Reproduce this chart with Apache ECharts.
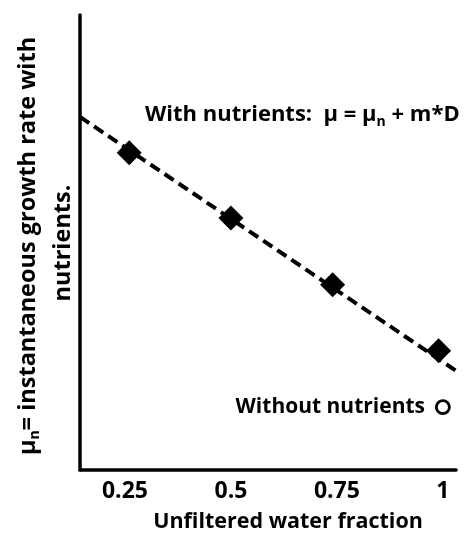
<!DOCTYPE html>
<html>
<head>
<meta charset="utf-8">
<script src="https://cdn.jsdelivr.net/npm/echarts@6/dist/echarts.min.js"></script>
<style>
  html, body { margin: 0; padding: 0; background: #fff; }
  #chart { width: 469px; height: 537px; }
</style>
</head>
<body>
<div id="chart"></div>
<script>
// 刻度标签
const xTicks = [0.25, 0.5, 0.75, 1];
// 加营养盐的点（菱形）
const withX = [0.26, 0.5, 0.74, 0.99];
const withY = [6.97, 5.54, 4.07, 2.62];
// 虚线拟合线两端
const fitX = [0.144, 1.031];
const fitY = [7.76, 2.18];
// 不加营养盐（空心圆）
const withoutX = [1.0];
const withoutY = [1.38];

const FONT = '"Open Sans", "DejaVu Sans", sans-serif';

let myChart = echarts.init(document.getElementById('chart'));
let option = {
  animation: false,
  grid: { left: 80, top: 15, right: 13, bottom: 67 },
  xAxis: {
    type: 'value',
    min: 0.144,
    max: 1.031,
    splitLine: { show: false },
    axisTick: { show: false },
    axisLine: { lineStyle: { color: '#000', width: 3.5 } },
    axisLabel: {
      customValues: xTicks,
      margin: 10,
      color: '#000',
      fontFamily: FONT,
      fontWeight: 'bold',
      fontSize: 23,
      formatter: v => String(v)
    }
  },
  yAxis: {
    type: 'value',
    min: 0,
    max: 10,
    splitLine: { show: false },
    axisTick: { show: false },
    axisLabel: { show: false },
    axisLine: { show: true, lineStyle: { color: '#000', width: 3.5 } }
  },
  series: [
    {
      name: 'fit',
      type: 'line',
      symbol: 'none',
      silent: true,
      lineStyle: { color: '#000', width: 4, type: [11, 6] },
      data: fitX.map((x, i) => [x, fitY[i]])
    },
    {
      name: 'with',
      type: 'scatter',
      symbol: 'diamond',
      symbolSize: 25,
      itemStyle: { color: '#000', opacity: 1 },
      data: withX.map((x, i) => [x, withY[i]])
    },
    {
      name: 'without',
      type: 'scatter',
      symbol: 'circle',
      symbolSize: 13,
      itemStyle: { color: '#fff', borderColor: '#000', borderWidth: 2.8, opacity: 1 },
      data: withoutX.map((x, i) => [x, withoutY[i]])
    }
  ],
  graphic: [
    {
      type: 'text',
      x: 145, y: 115,
      style: {
        text: '{b|With nutrients:  μ = μ}{s|n}{b| + m*D}',
        verticalAlign: 'middle',
        rich: {
          b: { fontFamily: FONT, fontWeight: 'bold', fontSize: 22, fill: '#000' },
          s: { fontFamily: FONT, fontWeight: 'bold', fontSize: 14, fill: '#000', padding: [14, 0, 0, 0] }
        }
      }
    },
    {
      type: 'text',
      x: 425, y: 407,
      style: {
        text: 'Without nutrients',
        align: 'right',
        verticalAlign: 'middle',
        fontFamily: FONT, fontWeight: 'bold', fontSize: 21, fill: '#000'
      }
    },
    {
      type: 'text',
      x: 288, y: 522,
      style: {
        text: 'Unfiltered water fraction',
        align: 'center',
        verticalAlign: 'middle',
        fontFamily: FONT, fontWeight: 'bold', fontSize: 21.5, fill: '#000'
      }
    },
    {
      type: 'text',
      x: 28, y: 246,
      rotation: Math.PI / 2,
      style: {
        text: '{b|μ}{s|n}{b|= instantaneous growth rate with}',
        align: 'center',
        verticalAlign: 'middle',
        rich: {
          b: { fontFamily: FONT, fontWeight: 'bold', fontSize: 23.5, fill: '#000' },
          s: { fontFamily: FONT, fontWeight: 'bold', fontSize: 14, fill: '#000', padding: [15, 0, 0, 0] }
        }
      }
    },
    {
      type: 'text',
      x: 63, y: 243,
      rotation: Math.PI / 2,
      style: {
        text: 'nutrients.',
        align: 'center',
        verticalAlign: 'middle',
        fontFamily: FONT, fontWeight: 'bold', fontSize: 23.5, fill: '#000'
      }
    }
  ]
};
myChart.setOption(option);
</script>
</body>
</html>
